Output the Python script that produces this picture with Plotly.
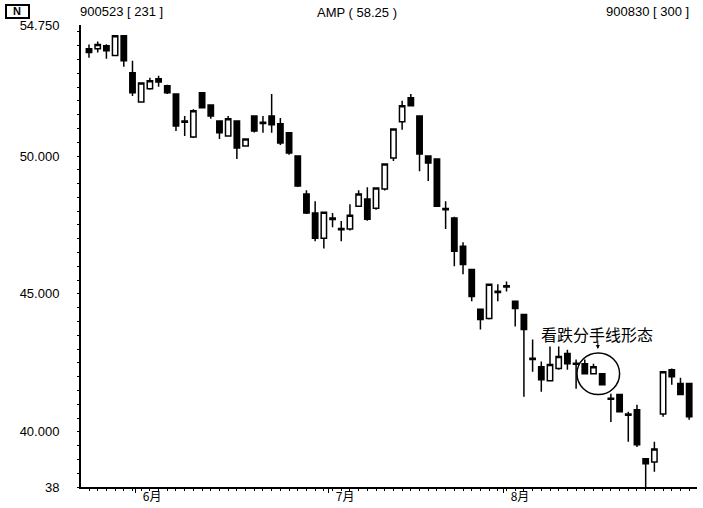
import plotly.graph_objects as go

# ---------------- data ----------------
opens = [53.89, 53.89, 54.00, 53.64, 54.36, 53.02, 51.96, 52.44, 52.80, 52.55,
         52.25, 51.27, 50.69, 52.29, 51.85, 51.27, 50.73, 51.27, 50.36, 51.45,
         51.22, 51.45, 51.17, 50.84, 50.00, 48.62, 47.93, 47.02, 47.70, 47.37,
         47.35, 48.18, 48.44, 48.11, 48.80, 49.93, 51.24, 52.11, 51.45, 50.00,
         49.89, 48.10, 47.75, 46.73, 45.89, 44.44, 44.11, 45.10, 45.25, 44.73,
         44.25, 42.67, 42.36, 41.85, 42.30, 42.84, 42.49, 42.47, 42.11, 42.11,
         41.22, 41.35, 40.65, 40.80, 39.02, 38.91, 40.65, 42.25, 41.75, 41.75]
highs = [54.04, 54.15, 54.05, 54.36, 54.38, 53.45, 52.65, 52.84, 52.91, 52.58,
         52.25, 51.45, 51.70, 52.29, 51.85, 51.30, 51.45, 51.30, 50.62, 51.45,
         51.45, 52.25, 51.38, 50.84, 50.00, 48.76, 48.36, 47.96, 47.93, 47.64,
         48.25, 48.76, 48.87, 48.84, 49.71, 51.00, 52.00, 52.25, 51.45, 50.02,
         49.89, 48.36, 47.80, 46.87, 45.89, 44.44, 45.35, 45.35, 45.45, 44.75,
         44.25, 43.35, 42.55, 43.09, 43.09, 42.98, 42.62, 42.62, 42.47, 42.11,
         41.38, 41.35, 40.73, 40.98, 39.05, 39.64, 42.18, 42.30, 41.96, 41.78]
lows = [53.56, 53.75, 53.53, 53.64, 53.24, 52.18, 51.96, 52.40, 52.51, 52.25,
        50.91, 50.73, 50.65, 51.75, 51.35, 50.62, 50.70, 49.89, 50.36, 50.85,
        50.84, 50.84, 50.40, 50.05, 48.88, 47.90, 46.91, 46.65, 47.42, 46.91,
        47.30, 48.15, 47.65, 48.05, 48.75, 49.82, 50.95, 51.80, 49.45, 49.09,
        48.15, 47.35, 46.00, 45.71, 44.73, 43.71, 44.07, 44.73, 45.09, 43.82,
        41.27, 42.18, 41.45, 41.85, 42.25, 42.25, 41.56, 42.11, 42.11, 41.68,
        40.36, 40.70, 39.64, 39.45, 37.90, 38.55, 40.55, 41.71, 41.33, 40.44]
closes = [53.75, 54.04, 53.82, 54.36, 53.45, 52.29, 52.65, 52.73, 52.68, 52.29,
          51.09, 51.22, 51.64, 51.75, 51.45, 50.84, 51.35, 50.29, 50.62, 50.91,
          51.18, 51.13, 50.47, 50.11, 48.91, 47.93, 47.02, 47.96, 47.75, 47.33,
          47.85, 48.62, 47.71, 48.84, 49.71, 50.98, 51.82, 51.82, 50.07, 49.75,
          48.18, 48.05, 46.55, 46.07, 44.91, 44.07, 45.35, 45.05, 45.30, 44.47,
          43.71, 42.62, 41.89, 42.44, 42.73, 42.47, 42.45, 42.11, 42.36, 41.71,
          41.18, 40.73, 40.60, 39.53, 38.84, 39.38, 42.18, 42.00, 41.35, 40.55]
day_index = list(range(len(opens)))

month_labels = ["6月", "7月", "8月"]
month_start_index = [5.3, 27.5, 47.6]

y_tick_values = [38, 40, 45, 50, 54.75]
y_tick_labels = ["38", "40.000", "45.000", "50.000", "54.750"]

header_left = "900523 [ 231 ]"
header_mid = "AMP ( 58.25 )"
header_right = "900830 [ 300 ]"
pattern_label = "看跌分手线形态"

# ---------------- figure ----------------
W, H = 703, 508
ML, MR, MT, MB = 81, 6, 25, 21
PW, PH = W - ML - MR, H - MT - MB

def pxx(px):
    return (px - ML) / PW

def pxy(py):
    return (H - MB - py) / PH

fig = go.Figure()
fig.add_trace(go.Candlestick(
    x=day_index, open=opens, high=highs, low=lows, close=closes,
    increasing=dict(line=dict(color="black", width=1.5), fillcolor="white"),
    decreasing=dict(line=dict(color="black", width=1.5), fillcolor="black"),
    whiskerwidth=0, showlegend=False, hoverinfo="skip",
))

FONT = "Liberation Sans, Arial, sans-serif"
CJK = "Noto Sans CJK SC, sans-serif"

fig.update_layout(
    width=W, height=H,
    margin=dict(l=ML, r=MR, t=MT, b=MB, pad=0, autoexpand=False),
    paper_bgcolor="white", plot_bgcolor="white",
    boxgap=0.12,
    font=dict(family=FONT, size=12, color="black"),
    xaxis=dict(
        range=[-0.92, 69.9], showgrid=False, zeroline=False, automargin=False,
        showline=True, linecolor="black", linewidth=2,
        rangeslider=dict(visible=False),
        tickmode="array", tickvals=month_start_index, ticktext=month_labels,
        ticks="outside", ticklen=4, tickwidth=1, tickcolor="black",
        ticklabelshift=17, ticklabelstandoff=-6,
        tickfont=dict(family=CJK, size=12, color="black"),
        minor=dict(dtick=1, tick0=0, ticks="outside", ticklen=2,
                   tickwidth=1, tickcolor="black"),
        fixedrange=True,
    ),
    yaxis=dict(
        range=[38, 54.75], showgrid=False, zeroline=False, automargin=False,
        showline=True, linecolor="black", linewidth=2,
        tickmode="array", tickvals=y_tick_values, ticktext=y_tick_labels,
        ticks="", ticklabelstandoff=17,
        tickfont=dict(family=FONT, size=13, color="black"),
        minor=dict(dtick=0.5, tick0=38, ticks="outside", ticklen=2,
                   tickwidth=1, tickcolor="black"),
        fixedrange=True,
    ),
)

# header texts
fig.add_annotation(xref="paper", yref="paper", x=pxx(78), y=pxy(12),
                   text=header_left, showarrow=False, xanchor="left",
                   yanchor="middle", font=dict(family=FONT, size=13))
fig.add_annotation(xref="paper", yref="paper", x=pxx(357), y=pxy(13),
                   text=header_mid, showarrow=False, xanchor="center",
                   yanchor="middle", font=dict(family=FONT, size=13))
fig.add_annotation(xref="paper", yref="paper", x=pxx(691), y=pxy(12),
                   text=header_right, showarrow=False, xanchor="right",
                   yanchor="middle", font=dict(family=FONT, size=13))

# small icon top-left
fig.add_shape(type="rect", xref="paper", yref="paper",
              x0=pxx(6), x1=pxx(29), y0=pxy(18), y1=pxy(5),
              line=dict(color="black", width=2), fillcolor="white")
fig.add_annotation(xref="paper", yref="paper", x=pxx(17), y=pxy(11.5),
                   text="<b>N</b>", showarrow=False, xanchor="center",
                   yanchor="middle", font=dict(family=FONT, size=11))

# pattern label, arrow and circle
fig.add_annotation(x=58.4, y=43.56, text=pattern_label, showarrow=False,
                   xanchor="center", yanchor="middle",
                   font=dict(family=CJK, size=16, color="black"))
fig.add_annotation(x=58.5, y=43.0, ax=0, ay=-10, text="", showarrow=True,
                   arrowhead=2, arrowsize=0.8, arrowwidth=1,
                   arrowcolor="black")
fig.add_shape(type="circle", x0=56.1, x1=61.0, y0=41.35, y1=42.86,
              line=dict(color="black", width=1.5))

fig.write_html("out.html",
               config={"displayModeBar": False, "staticPlot": True},
               post_script="document.body.style.margin='0';"
                           "document.body.style.overflow='hidden';")
